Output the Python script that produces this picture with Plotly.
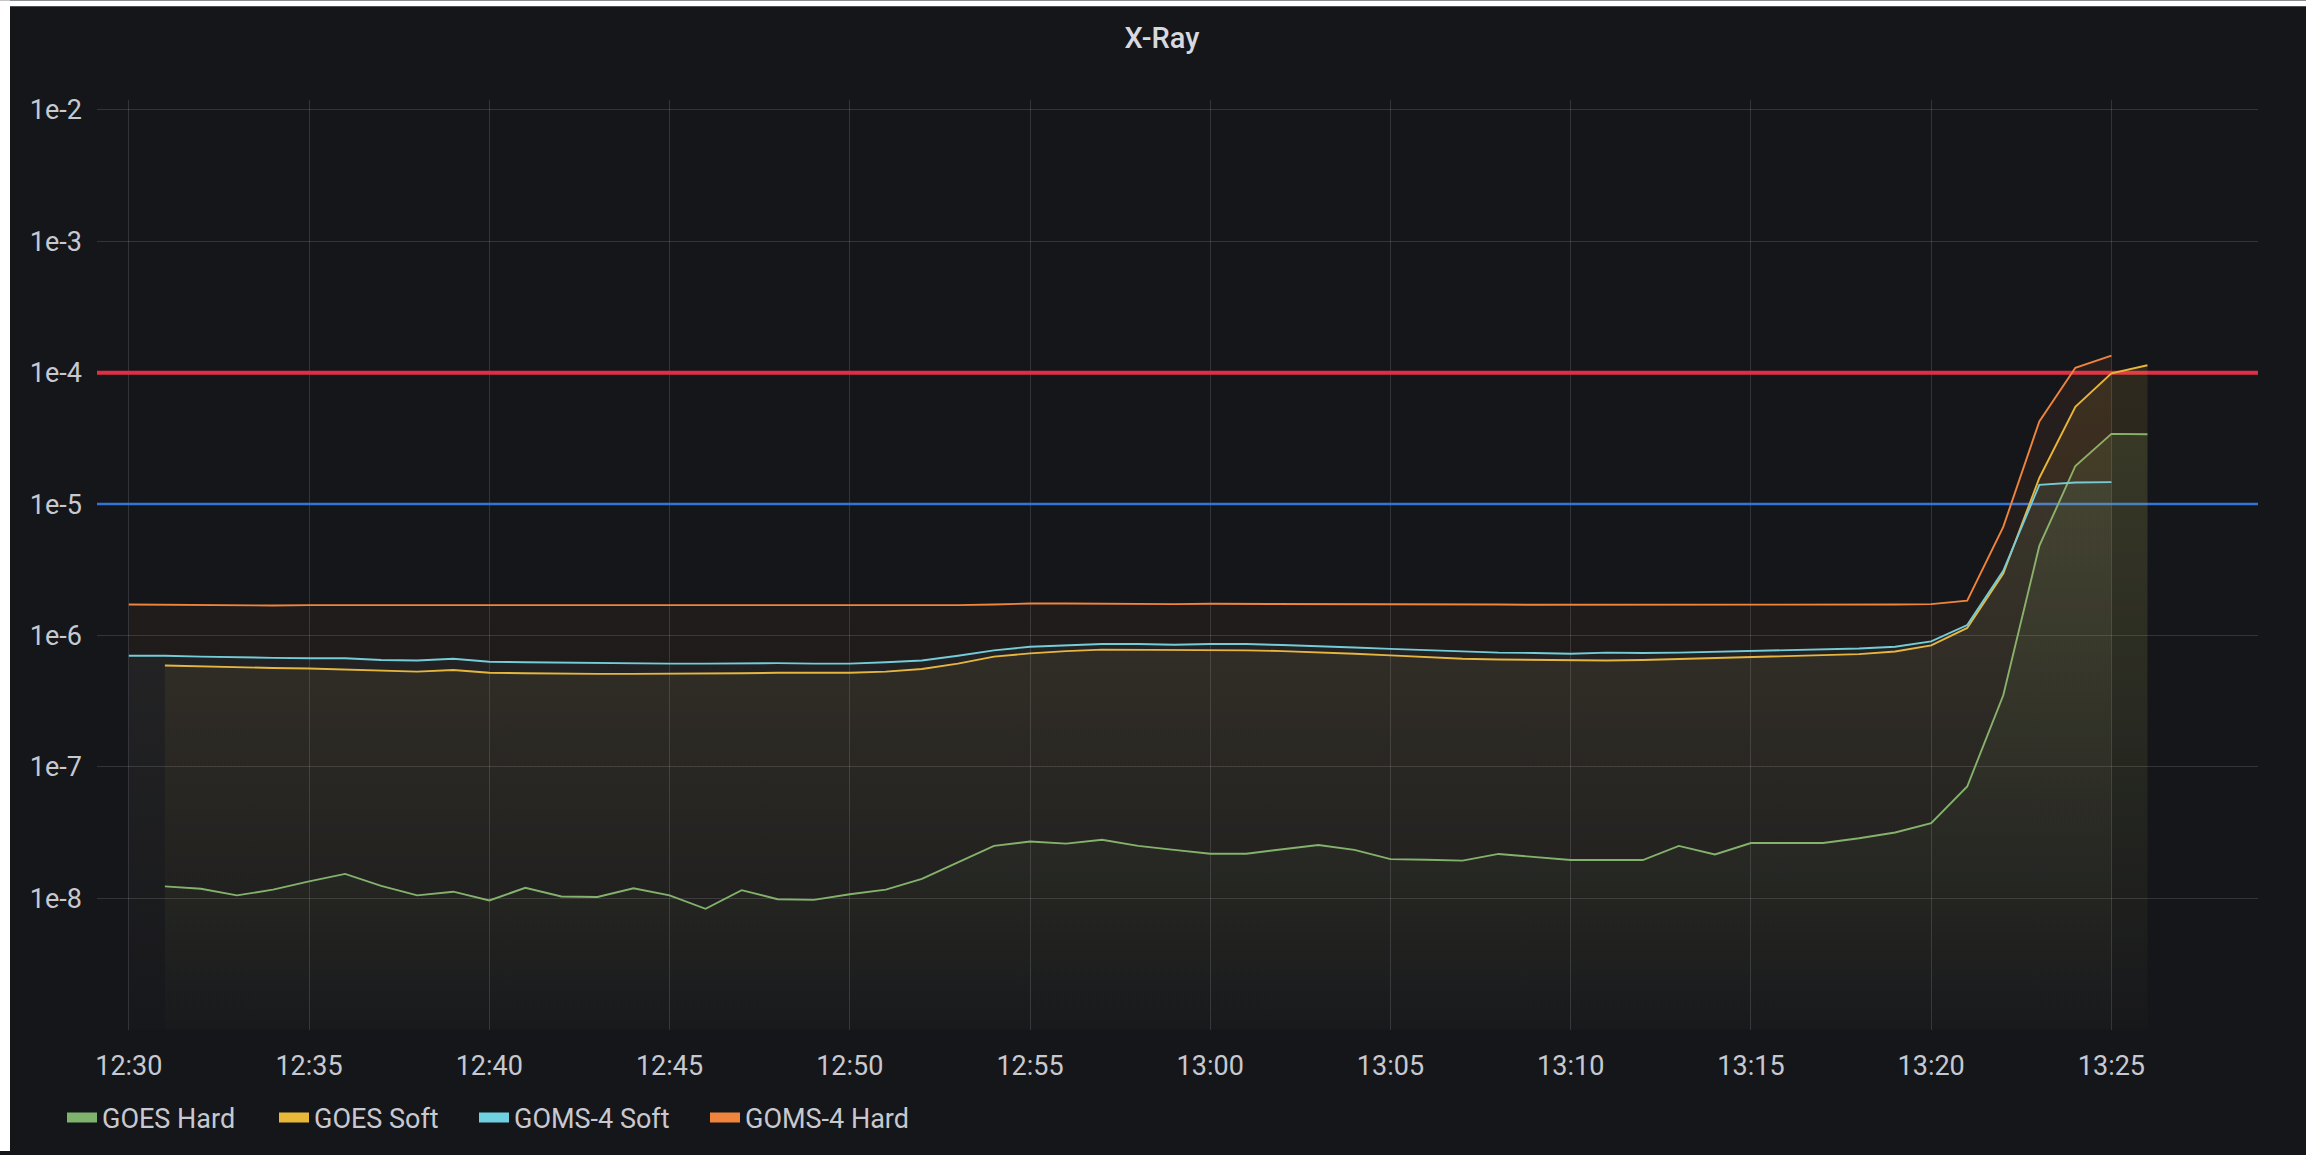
import pandas as pd
import plotly.graph_objects as go

# ---------------- data ----------------
DAY = "2023-01-01"
goes_times = pd.date_range(f"{DAY} 12:31", periods=56, freq="1min")
goms_times = pd.date_range(f"{DAY} 12:30", periods=56, freq="1min")

goes_hard = [
    1.23e-8, 1.18e-8, 1.05e-8, 1.16e-8, 1.34e-8, 1.53e-8, 1.24e-8, 1.05e-8,
    1.12e-8, 9.6e-9, 1.20e-8, 1.03e-8, 1.02e-8, 1.19e-8, 1.05e-8, 8.3e-9,
    1.15e-8, 9.8e-9, 9.7e-9, 1.07e-8, 1.16e-8, 1.40e-8, 1.87e-8, 2.50e-8,
    2.70e-8, 2.60e-8, 2.78e-8, 2.50e-8, 2.33e-8, 2.18e-8, 2.18e-8, 2.36e-8,
    2.54e-8, 2.33e-8, 1.98e-8, 1.96e-8, 1.93e-8, 2.17e-8, 2.05e-8, 1.95e-8,
    1.95e-8, 1.95e-8, 2.50e-8, 2.15e-8, 2.63e-8, 2.63e-8, 2.63e-8, 2.86e-8,
    3.16e-8, 3.72e-8, 7.08e-8, 3.50e-7, 4.80e-6, 1.95e-5, 3.42e-5, 3.40e-5,
]
goes_soft = [
    5.90e-7, 5.80e-7, 5.70e-7, 5.65e-7, 5.60e-7, 5.50e-7, 5.40e-7, 5.30e-7,
    5.45e-7, 5.20e-7, 5.15e-7, 5.10e-7, 5.10e-7, 5.10e-7, 5.10e-7, 5.10e-7,
    5.15e-7, 5.20e-7, 5.20e-7, 5.20e-7, 5.30e-7, 5.55e-7, 6.10e-7, 6.90e-7,
    7.30e-7, 7.60e-7, 7.80e-7, 7.80e-7, 7.75e-7, 7.70e-7, 7.70e-7, 7.60e-7,
    7.45e-7, 7.25e-7, 7.05e-7, 6.85e-7, 6.65e-7, 6.55e-7, 6.50e-7, 6.45e-7,
    6.45e-7, 6.50e-7, 6.60e-7, 6.70e-7, 6.80e-7, 6.90e-7, 7.00e-7, 7.20e-7,
    7.55e-7, 8.40e-7, 1.14e-6, 2.96e-6, 1.58e-5, 5.50e-5, 9.90e-5, 1.14e-4,
]
goms_soft = [
    7.00e-7, 7.00e-7, 6.90e-7, 6.80e-7, 6.75e-7, 6.70e-7, 6.70e-7, 6.50e-7,
    6.45e-7, 6.65e-7, 6.30e-7, 6.25e-7, 6.20e-7, 6.20e-7, 6.15e-7, 6.10e-7,
    6.10e-7, 6.15e-7, 6.15e-7, 6.10e-7, 6.10e-7, 6.25e-7, 6.45e-7, 7.00e-7,
    7.70e-7, 8.20e-7, 8.40e-7, 8.60e-7, 8.60e-7, 8.50e-7, 8.60e-7, 8.60e-7,
    8.45e-7, 8.30e-7, 8.10e-7, 7.90e-7, 7.70e-7, 7.50e-7, 7.40e-7, 7.35e-7,
    7.25e-7, 7.40e-7, 7.35e-7, 7.40e-7, 7.50e-7, 7.60e-7, 7.65e-7, 7.80e-7,
    7.95e-7, 8.20e-7, 9.00e-7, 1.20e-6, 3.10e-6, 1.40e-5, 1.46e-5, 1.47e-5,
]
goms_hard = [
    1.72e-6, 1.71e-6, 1.70e-6, 1.70e-6, 1.69e-6, 1.70e-6, 1.70e-6, 1.69e-6,
    1.69e-6, 1.69e-6, 1.69e-6, 1.69e-6, 1.68e-6, 1.69e-6, 1.69e-6, 1.69e-6,
    1.68e-6, 1.68e-6, 1.68e-6, 1.69e-6, 1.68e-6, 1.68e-6, 1.69e-6, 1.70e-6,
    1.72e-6, 1.75e-6, 1.75e-6, 1.74e-6, 1.74e-6, 1.73e-6, 1.74e-6, 1.74e-6,
    1.73e-6, 1.73e-6, 1.73e-6, 1.72e-6, 1.72e-6, 1.72e-6, 1.72e-6, 1.71e-6,
    1.71e-6, 1.71e-6, 1.70e-6, 1.71e-6, 1.71e-6, 1.72e-6, 1.72e-6, 1.72e-6,
    1.72e-6, 1.72e-6, 1.73e-6, 1.84e-6, 6.70e-6, 4.26e-5, 1.09e-4, 1.35e-4,
]

thresholds = [1e-4, 1e-5]
x_range = [f"{DAY} 12:29:07", f"{DAY} 13:29:04"]
y_min = 1e-9
y_tickvals = [1e-8, 1e-7, 1e-6, 1e-5, 1e-4, 1e-3, 1e-2]
y_ticktext = ["1e-8", "1e-7", "1e-6", "1e-5", "1e-4", "1e-3", "1e-2"]

# ---------------- styling ----------------
W, H = 2306, 1155
ML, MR, MT, MB = 97, 48, 100, 122
PW, PH = W - ML - MR, H - MT - MB
BG = "#15161a"
TEXT = "#c8c9d0"
GRID = "rgba(204,204,220,0.17)"
FONT = "Roboto"

series = [
    ("GOES Hard", goes_times, goes_hard, (126, 178, 109), 0.12),
    ("GOES Soft", goes_times, goes_soft, (234, 184, 57), 0.12),
    ("GOMS-4 Soft", goms_times, goms_soft, (110, 208, 224), 0.06),
    ("GOMS-4 Hard", goms_times, goms_hard, (239, 132, 60), 0.08),
]
threshold_colors = ["#e02f44", "#3274d9"]
threshold_widths = [4, 2.5]


def rgba(c, a):
    return f"rgba({c[0]},{c[1]},{c[2]},{a})"


fig = go.Figure()

# threshold lines
for val, col, w in zip(thresholds, threshold_colors, threshold_widths):
    fig.add_trace(go.Scatter(
        x=x_range, y=[val, val], mode="lines",
        line=dict(color=col, width=w), showlegend=False, hoverinfo="skip",
    ))

# series with gradient fill
for name, t, v, c, a in series:
    fig.add_trace(go.Scatter(
        x=t, y=v, mode="lines", name=name,
        line=dict(color=rgba(c, 1), width=1.9),
        fill="tozeroy",
        fillgradient=dict(
            type="vertical", start=y_min, stop=max(v),
            colorscale=[[0, rgba(c, 0.005)], [1, rgba(c, a)]],
        ),
        showlegend=False,
    ))

# legend entries (one legend each so the spacing follows the reference)
legend_x = [62, 274, 474, 705]
layout_legends = {}
for i, ((name, _, _, c, _), lx) in enumerate(zip(series, legend_x)):
    key = "legend" if i == 0 else f"legend{i + 1}"
    fig.add_trace(go.Scatter(
        x=[None], y=[None], mode="lines", name=name,
        line=dict(color=rgba(c, 1), width=10),
        legend=key, showlegend=True,
    ))
    layout_legends[key] = dict(
        xref="container", yref="container",
        x=lx / W, y=1 - 1118 / H, xanchor="left", yanchor="middle",
        orientation="h", bgcolor="rgba(0,0,0,0)",
        font=dict(family=FONT, size=27, color=TEXT),
        itemwidth=30,
    )

# white screenshot border (left / top)
shapes = [
    dict(type="rect", xref="paper", yref="paper", layer="above",
         x0=-ML / PW, x1=(10 - ML) / PW, y0=-MB / PH, y1=(PH + MT) / PH,
         fillcolor="white", line=dict(width=0)),
    dict(type="rect", xref="paper", yref="paper", layer="above",
         x0=-ML / PW, x1=(W - ML) / PW, y0=(PH + MT - 6) / PH, y1=(PH + MT) / PH,
         fillcolor="white", line=dict(width=0)),
]

fig.update_layout(
    width=W, height=H,
    margin=dict(l=ML, r=MR, t=MT, b=MB, pad=0),
    paper_bgcolor=BG, plot_bgcolor=BG,
    font=dict(family=FONT, size=27, color=TEXT),
    title=dict(
        text="X-Ray", x=1162 / W, xanchor="center", xref="container",
        y=1 - 38 / H, yanchor="middle", yref="container",
        font=dict(family=FONT, size=29, color="#d8d9de", weight=500),
    ),
    xaxis=dict(
        type="date", range=x_range, tickformat="%H:%M",
        tick0=f"{DAY} 12:30", dtick=5 * 60 * 1000,
        showgrid=True, gridcolor=GRID, gridwidth=1.3,
        zeroline=False, showline=False, ticks="",
        tickfont=dict(family=FONT, size=27, color=TEXT),
        ticklabelstandoff=17,
    ),
    yaxis=dict(
        type="log", range=[-9, -1.924],
        tickvals=y_tickvals, ticktext=y_ticktext,
        showgrid=True, gridcolor=GRID, gridwidth=1.3,
        zeroline=False, showline=False, ticks="",
        tickfont=dict(family=FONT, size=27, color=TEXT),
        ticklabelstandoff=14,
    ),
    shapes=shapes,
    hovermode=False,
    **layout_legends,
)

fig.write_html(
    "out.html",
    config={"displayModeBar": False},
    post_script="document.body.style.margin='0';document.body.style.overflow='hidden';",
)
